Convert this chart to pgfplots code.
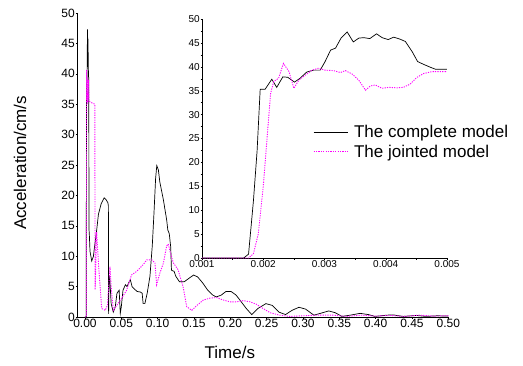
\documentclass[border=0pt]{standalone}
\usepackage{fontspec}
\setmainfont{Liberation Sans}
\usepackage{pgfplots}
\pgfplotsset{compat=1.18}
\definecolor{pinkm}{RGB}{255,0,255}
\begin{document}
\begin{tikzpicture}[x=1pt,y=1pt]
\useasboundingbox (0,0) rectangle (523,365);
\begin{axis}[
  at={(77pt,48pt)}, anchor=south west,
  scale only axis, width=372pt, height=304pt,
  xmin=-0.011, xmax=0.501, ymin=0, ymax=50,
  axis lines=left, axis line style={-, line width=0.6pt},
  xtick={0,0.05,...,0.501}, ytick={0,5,...,50},
  tick align=outside, major tick length=1.5pt,
  tick style={line width=0.5pt, black},
  /pgf/number format/assume math mode=true,
  xticklabel style={/pgf/number format/fixed,/pgf/number format/fixed zerofill,/pgf/number format/precision=2, inner sep=0.5pt},
  yticklabel style={inner sep=0.5pt},
  ticklabel style={font=\fontsize{12}{12}\selectfont},
  scaled x ticks=false,
  xlabel={Time/s}, ylabel={Acceleration/cm/s},
  label style={font=\fontsize{17}{17}\selectfont},
  xlabel style={at={(axis description cs:0.411,-0.118)}, anchor=center},
  ylabel style={at={(axis description cs:-0.153,0.507)}, anchor=center, rotate=0},
  clip=false,
]
\addplot[black, line width=0.7pt] coordinates {
(0,0) (0.0017,0) (0.0019,22.5) (0.002,35.3) (0.0022,35.7) (0.0024,37.8) (0.0027,38.9) (0.003,41) (0.0034,47.3) (0.0036,46) (0.004,45.7) (0.0044,43.2) (0.0048,39.5) (0.0052,39.4) (0.0055,14.5) (0.006,13.5) (0.0069,10.8) (0.0093,9.2) (0.0116,10) (0.013,11.4) (0.0162,14.4) (0.0185,16.9) (0.0222,18.6) (0.0264,19.6) (0.029,19.3) (0.0315,18.8) (0.0322,18.3) (0.0325,0.5) (0.033,5) (0.034,6.7) (0.036,2.2) (0.039,0.8) (0.0417,1.7) (0.044,3.9) (0.047,4.4) (0.0486,0.6) (0.05,1.7) (0.0523,4.4) (0.0556,5.3) (0.0579,5) (0.06,5.6) (0.0625,6.1) (0.0648,5) (0.067,4.7) (0.0718,4.2) (0.0764,4.1) (0.0787,3.9) (0.08,2.2) (0.0824,2.2) (0.0856,3.9) (0.0894,6.7) (0.0926,11.7) (0.095,17.2) (0.0972,22.8) (0.0988,24.9) (0.101,24.2) (0.103,22.2) (0.108,19.2) (0.1125,15.9) (0.114,14.3) (0.116,13.7) (0.118,11.5) (0.119,7.7) (0.1227,7.5) (0.125,6.7) (0.13,5.8) (0.1366,5.8) (0.1435,6.4) (0.1495,6.9) (0.155,6.6) (0.162,5.6) (0.169,4.4) (0.176,3.6) (0.1806,3.3) (0.1875,3.6) (0.194,4.2) (0.201,4.2) (0.208,3.6) (0.215,2.5) (0.222,1.4) (0.2295,0.4) (0.238,1.4) (0.249,2.2) (0.258,1.9) (0.267,0.8) (0.276,0.4) (0.285,1.1) (0.2945,1.6) (0.3036,1.3) (0.315,0.3) (0.324,0.6) (0.3355,1.0) (0.3445,0.7) (0.3536,0.1) (0.365,0.3) (0.3786,0.6) (0.39,0.4) (0.399,0.1) (0.415,0.3) (0.424,0.35) (0.4377,0.1) (0.456,0.25) (0.4695,0.1) (0.485,0.2) (0.5,0.15)
};
\addplot[pinkm, line width=0.9pt, dash pattern=on 1.2pt off 1.2pt] coordinates {
(0,0) (0.0018,0) (0.002,14.9) (0.0021,30) (0.0022,36.5) (0.0023,40.7) (0.0025,35.5) (0.0028,39.3) (0.0033,39) (0.0037,35.1) (0.0042,35.6) (0.0046,38) (0.005,39) (0.0055,35.5) (0.008,35.3) (0.0135,35) (0.014,4.5) (0.016,14) (0.019,8) (0.023,1.4) (0.028,1.1) (0.031,2) (0.0344,8.3) (0.036,5) (0.039,1.1) (0.0436,1.9) (0.047,2.5) (0.05,3) (0.0573,4.4) (0.064,6.9) (0.071,7.5) (0.08,8.6) (0.085,9.4) (0.092,9.4) (0.0963,8.9) (0.0986,5.3) (0.103,7.2) (0.108,8.9) (0.1124,11.7) (0.1147,12.0) (0.117,10.8) (0.1216,8.9) (0.128,7.8) (0.135,5.0) (0.14,1.7) (0.147,1.1) (0.154,1.9) (0.163,2.8) (0.172,3.1) (0.181,3.2) (0.19,2.8) (0.2,2.5) (0.209,2.5) (0.218,2.7) (0.227,2.5) (0.236,2.1) (0.245,1.4) (0.255,0.7) (0.268,0.3) (0.282,0.1) (0.3,0.2) (0.319,0.3) (0.342,0.3) (0.36,0.1) (0.38,0.3) (0.4,0.15) (0.42,0.25) (0.44,0.1) (0.46,0.3) (0.48,0.15) (0.5,0.2)
};
\end{axis}
\begin{axis}[
  at={(202pt,107pt)}, anchor=south west,
  scale only axis, width=245pt, height=239pt,
  xmin=0.001, xmax=0.005, ymin=0, ymax=50,
  axis lines=left, axis line style={-, line width=0.5pt},
  xtick={0.001,0.002,0.003,0.004,0.005}, ytick={0,5,...,50},
  minor x tick num=1, minor y tick num=1,
  tick align=outside, major tick length=1.5pt, minor tick length=1.5pt,
  tick style={line width=0.4pt, black},
  /pgf/number format/assume math mode=true,
  xticklabel style={/pgf/number format/fixed,/pgf/number format/fixed zerofill,/pgf/number format/precision=3, inner sep=0.5pt},
  yticklabel style={inner sep=0.5pt},
  ticklabel style={font=\fontsize{10}{10}\selectfont},
  scaled x ticks=false,
  legend style={draw=none, fill=none, at={(0.453,0.565)}, anchor=north west, inner sep=0pt, row sep=2pt, font=\fontsize{17}{17}\selectfont, column sep=4pt},
  legend cell align=left,
  legend image code/.code={\draw[#1] (0pt,0pt) -- (34pt,0pt);},
]
\addplot[black, line width=0.7pt] coordinates {
(0.001,0) (0.00168,0) (0.00176,0.8) (0.00184,12) (0.0019,22.5) (0.00195,35.3) (0.00203,35.3) (0.00214,37.4) (0.00222,35.7) (0.00232,37.9) (0.0024,37.8) (0.00251,36.8) (0.0026,37.6) (0.00271,38.9) (0.00282,39.3) (0.00293,39.3) (0.00301,41.1) (0.0031,43.5) (0.00318,43.9) (0.00327,46.0) (0.00337,47.3) (0.00347,45.2) (0.00356,46.0) (0.00364,46.1) (0.00374,45.9) (0.00385,46.9) (0.00394,46.1) (0.00404,45.7) (0.00413,46.2) (0.00423,45.8) (0.00432,45.3) (0.00443,43.2) (0.00452,41.1) (0.00462,40.5) (0.00473,39.9) (0.00481,39.5) (0.005,39.5)
};
\addlegendentry{The complete model}
\addplot[pinkm, line width=0.9pt, dash pattern=on 1.2pt off 1.2pt] coordinates {
(0.001,0) (0.00176,0) (0.00184,0.9) (0.00192,5.1) (0.002,14.9) (0.00206,24.7) (0.00212,34.4) (0.00217,36.9) (0.00225,37.6) (0.00233,40.7) (0.00242,39.0) (0.0025,35.5) (0.00258,37.2) (0.00269,38.3) (0.0028,39.3) (0.0029,39.7) (0.00301,39.3) (0.00315,39.2) (0.00326,38.8) (0.00334,39.2) (0.00345,38.5) (0.00356,37.2) (0.00367,35.1) (0.00375,36.0) (0.00383,36.2) (0.00394,35.5) (0.00405,35.7) (0.00418,35.6) (0.00429,35.7) (0.0044,36.4) (0.00451,37.8) (0.00462,38.6) (0.00476,39.0) (0.005,39.0)
};
\addlegendentry{The jointed model}
\end{axis}
\end{tikzpicture}
\end{document}
